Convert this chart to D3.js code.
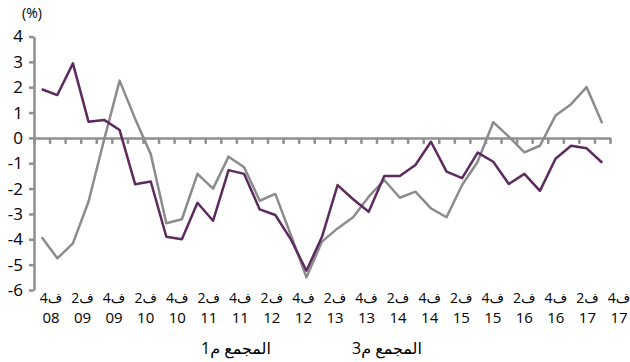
<!DOCTYPE html>
<html>
<head>
<meta charset="utf-8">
<script src="https://cdn.jsdelivr.net/npm/d3@7"></script>
<style>
  body { margin: 0; background: #fff; }
  svg { display: block; font-family: 'Open Sans', 'DejaVu Sans', sans-serif; }
</style>
</head>
<body>
<div id="chart"></div>
<script>
// quarters Q4 2008 .. Q4 2017
var quarters = ['08Q4',
  '09Q1', '09Q2', '09Q3', '09Q4', '10Q1', '10Q2', '10Q3', '10Q4',
  '11Q1', '11Q2', '11Q3', '11Q4', '12Q1', '12Q2', '12Q3', '12Q4',
  '13Q1', '13Q2', '13Q3', '13Q4', '14Q1', '14Q2', '14Q3', '14Q4',
  '15Q1', '15Q2', '15Q3', '15Q4', '16Q1', '16Q2', '16Q3', '16Q4',
  '17Q1', '17Q2', '17Q3', '17Q4']

// M1 (purple)
var m1 = [1.92, 1.69, 2.94, 0.64, 0.71, 0.31, -1.83, -1.72, -3.90, -4.00,
  -2.56, -3.27, -1.27, -1.42, -2.82, -3.04, -4.00, -5.24, -3.90, -1.86,
  -2.42, -2.91, -1.50, -1.50, -1.07, -0.15, -1.33, -1.59, -0.58, -0.94,
  -1.82, -1.42, -2.09, -0.82, -0.31, -0.41, -0.98]

// M3 (grey)
var m3 = [-3.92, -4.75, -4.16, -2.52, -0.08, 2.26, 0.75, -0.64, -3.37, -3.21,
  -1.42, -2.00, -0.74, -1.16, -2.48, -2.21, -3.83, -5.50, -4.09, -3.57,
  -3.13, -2.32, -1.66, -2.36, -2.12, -2.78, -3.13, -1.86, -0.94, 0.62,
  0.05, -0.57, -0.31, 0.88, 1.33, 2.00, 0.58]

var quarterLabels = ['ف4', 'ف2', 'ف4', 'ف2', 'ف4', 'ف2', 'ف4', 'ف2', 'ف4', 'ف2',
  'ف4', 'ف2', 'ف4', 'ف2', 'ف4', 'ف2', 'ف4', 'ف2', 'ف4']
var yearLabels = ['08', '09', '09', '10', '10', '11', '11', '12', '12', '13',
  '13', '14', '14', '15', '15', '16', '16', '17', '17']

var yTicks = [4, 3, 2, 1, 0, -1, -2, -3, -4, -5, -6]

var seriesNames = ['المجمع م1', 'المجمع م3']

var width = 630
var height = 362
var axisColor = '#8f8f8f'

var svg = d3.select('#chart')
  .append('svg')
  .attr('width', width)
  .attr('height', height)

var x = d3.scaleBand()
  .domain(quarters)
  .range([34, 610])

var xEdge = d3.scaleLinear()
  .domain([0, quarters.length])
  .range([34, 610])

var y = d3.scaleLinear()
  .domain([-6, 4])
  .range([290, 36.5])

var labelX = d3.scalePoint()
  .domain(d3.range(quarterLabels.length))
  .range([51, 619])

// y axis
var yAxis = d3.axisLeft(y)
  .tickValues(yTicks)
  .tickSize(5)
  .tickSizeOuter(0)
  .tickPadding(6)
  .tickFormat(function(d) { return d })

var gy = svg.append('g')
  .attr('transform', 'translate(34,0)')
  .call(yAxis)
gy.select('.domain').attr('stroke', axisColor).attr('stroke-width', 2.5)
gy.selectAll('.tick line').attr('stroke', axisColor).attr('stroke-width', 2.5)
gy.selectAll('.tick text')
  .attr('fill', '#000')
  .attr('font-size', 17)
  .attr('font-family', "'Open Sans', sans-serif")

// x axis sits on zero
var xAxis = d3.axisBottom(xEdge)
  .tickValues(d3.range(quarters.length + 1))
  .tickSize(6)
  .tickSizeOuter(0)
  .tickFormat('')

var gx = svg.append('g')
  .attr('transform', 'translate(0,' + y(0) + ')')
  .call(xAxis)
gx.select('.domain').attr('stroke', axisColor).attr('stroke-width', 2.5)
gx.selectAll('.tick line').attr('stroke', axisColor).attr('stroke-width', 2.5)

// (%) unit label
svg.append('text')
  .text('(%)')
  .attr('x', 32)
  .attr('y', 18)
  .attr('text-anchor', 'middle')
  .attr('font-size', 14)

// category labels
svg.selectAll('.q-label')
  .data(quarterLabels)
  .enter()
  .append('text')
  .attr('class', 'q-label')
  .attr('x', function(d, i) { return labelX(i) })
  .attr('y', 303)
  .attr('text-anchor', 'middle')
  .attr('direction', 'rtl')
  .attr('font-size', 14)
  .text(function(d) { return d })

svg.selectAll('.y-label')
  .data(yearLabels)
  .enter()
  .append('text')
  .attr('class', 'y-label')
  .attr('x', function(d, i) { return labelX(i) })
  .attr('y', 323)
  .attr('text-anchor', 'middle')
  .attr('font-size', 15)
  .text(function(d) { return d })

// lines
var line = d3.line()
  .x(function(d, i) { return x(quarters[i]) + x.bandwidth() / 2 })
  .y(function(d) { return y(d) })

svg.append('path')
  .datum(m3)
  .attr('d', line)
  .attr('fill', 'none')
  .attr('stroke', '#8c8c8c')
  .attr('stroke-width', 2.5)
  .attr('stroke-linejoin', 'round')

svg.append('path')
  .datum(m1)
  .attr('d', line)
  .attr('fill', 'none')
  .attr('stroke', '#5c2a5e')
  .attr('stroke-width', 2.5)
  .attr('stroke-linejoin', 'round')

// series labels under the axis
var legendX = [236, 387]
svg.selectAll('.series-label')
  .data(seriesNames)
  .enter()
  .append('text')
  .attr('class', 'series-label')
  .attr('x', function(d, i) { return legendX[i] })
  .attr('y', 354)
  .attr('text-anchor', 'middle')
  .attr('direction', 'rtl')
  .attr('font-size', 16)
  .text(function(d) { return d })
</script>
</body>
</html>
